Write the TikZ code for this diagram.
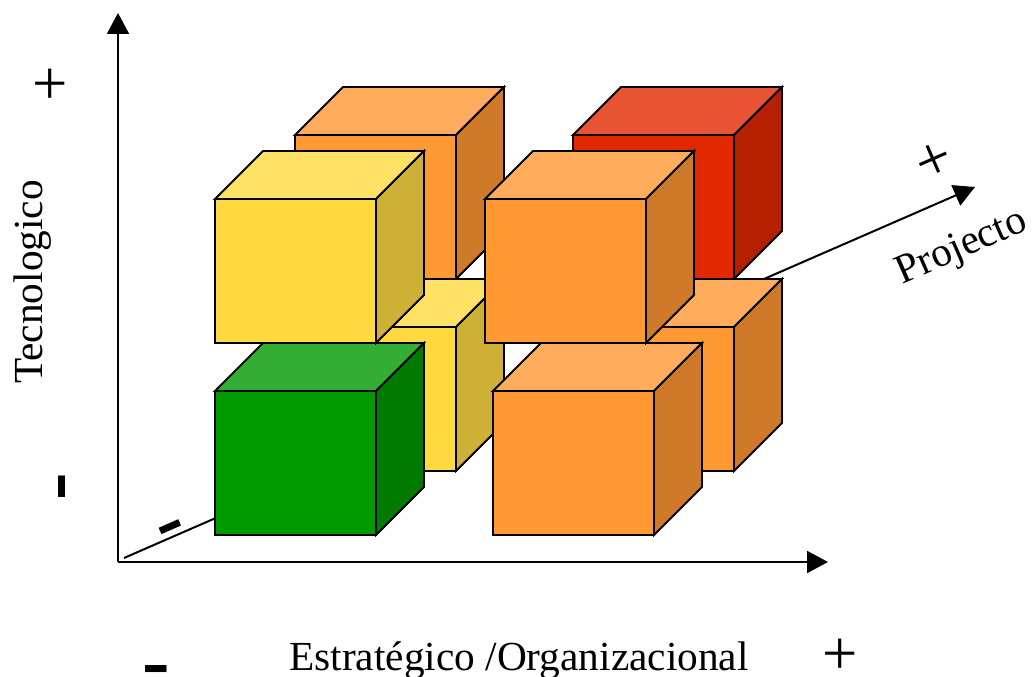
\documentclass[tikz,border=0pt]{standalone}
\usepackage{fontspec}
\setmainfont{Liberation Serif}
\usetikzlibrary{arrows.meta}

% face colours: front, lit top, shaded side
\definecolor{yelF}{RGB}{255,217,64}
\definecolor{yelT}{RGB}{255,225,102}
\definecolor{yelS}{RGB}{206,176,54}
\definecolor{orgF}{RGB}{255,153,51}
\definecolor{orgT}{RGB}{255,173,92}
\definecolor{orgS}{RGB}{206,122,41}
\definecolor{redF}{RGB}{226,40,0}
\definecolor{redT}{RGB}{231,83,51}
\definecolor{redS}{RGB}{180,32,0}
\definecolor{grnF}{RGB}{0,153,0}
\definecolor{grnT}{RGB}{51,173,51}
\definecolor{grnS}{RGB}{0,122,0}

% cube with front face top-left corner at (#1,#2)
\newcommand\drawcube[5]{%
  \path[cubeedge,fill=#3] (#1,#2) rectangle ++(161,144);
  \path[cubeedge,fill=#4] (#1,#2) -- ++(48,-48) -- ++(161,0) -- ++(-48,48) -- cycle;
  \path[cubeedge,fill=#5] (#1+161,#2) -- ++(48,-48) -- ++(0,144) -- ++(-48,48) -- cycle;
}

\begin{document}
\begin{tikzpicture}[x=0.75pt,y=-0.75pt,
  cubeedge/.style={draw=black,line width=1.35pt,line join=miter},
  axis/.style={line width=1.5pt,-{Triangle[length=15.75pt,width=16.5pt]}},
  lbl/.style={font=\fontsize{31}{37}\selectfont,inner sep=0pt},
  plussign/.style={font=\fontsize{47}{50}\selectfont,inner sep=0pt},
  minussign/.style={font=\fontsize{62}{64}\selectfont\bfseries,inner sep=0pt}]

\useasboundingbox (0,0) rectangle (1036,677);

% axis end points
\coordinate (O) at (118,562);
\coordinate (Ytop) at (118,13);
\coordinate (Xend) at (828,562);
\coordinate (Dstart) at (124,558);
\coordinate (Dend) at (975,187);

% depth axis runs behind the cubes
\draw[axis] (Dstart) -- (Dend);

% back layer
\drawcube{295}{135}{orgF}{orgT}{orgS}
\drawcube{573}{135}{redF}{redT}{redS}
\drawcube{295}{327}{yelF}{yelT}{yelS}
\drawcube{573}{327}{orgF}{orgT}{orgS}
% front layer
\drawcube{215}{391}{grnF}{grnT}{grnS}
\drawcube{493}{391}{orgF}{orgT}{orgS}
\drawcube{215}{199}{yelF}{yelT}{yelS}
\drawcube{485}{199}{orgF}{orgT}{orgS}

% vertical and horizontal axes
\draw[axis] (O) -- (Ytop);
\draw[axis] (O) -- (Xend);

% axis labels
\node[lbl,anchor=base,rotate=90] (ylab) at (42,282) {Tecnologico};
\node[lbl,anchor=base] (xlab) at (519,670) {Estratégico /Organizacional};
\node[lbl,anchor=base,rotate=23.6] (dlab) at (966,257) {Projecto};

% signs
\node[plussign] (yplus) at (50,87) {+};
\node[plussign] (xplus) at (840,657) {+};
\node[plussign,rotate=23.6] (dplus) at (935,162) {+};
\node[minussign] (xminus) at (156,677) {-};
\node[minussign,rotate=90] (yminus) at (70,487) {-};
\node[minussign,rotate=23.6] (dminus) at (174,534) {-};

\end{tikzpicture}
\end{document}
